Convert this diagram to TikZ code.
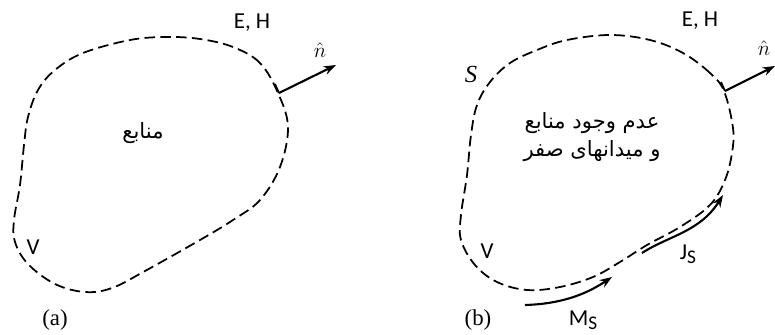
\documentclass[tikz,border=0pt]{standalone}
\usepackage{fontspec}
\setmainfont{Liberation Serif}
\newfontfamily\arabicfont[Script=Arabic]{DejaVu Sans}
\newfontfamily\labfont{Carlito}
\TeXXeTstate=1
\usetikzlibrary{arrows.meta}

\begin{document}
\begin{tikzpicture}[x=0.02cm, y=-0.02cm, >=Stealth]
\tikzstyle{bnd}=[dash pattern=on 6pt off 3pt, line width=1pt]
\tikzstyle{vec}=[->, line width=1.2pt, >={Stealth[length=7pt,width=5pt]}]
\tikzstyle{lab}=[font=\labfont\fontsize{13}{15}\selectfont, inner sep=1pt]
\tikzstyle{captxt}=[font=\fontsize{13}{15}\selectfont, inner sep=1pt]
\tikzstyle{ar}=[font=\arabicfont\fontsize{12}{16}\selectfont, align=center, inner sep=1pt]
\tikzstyle{nrm}=[font=\large, inner sep=1pt]
\useasboundingbox (0,0) rectangle (775,335);

% (a)
\draw[bnd] plot[smooth cycle, tension=0.6] coordinates {(278,93) (260,63) (233,47)
  (200,39) (167,37) (130,40) (83,53) (55,70) (38,90) (28,117) (24,145) (20,185)
  (14,220) (15,242) (28,264) (55,284) (85,292) (112,288) (145,271) (200,240)
  (233,220) (260,200) (280,167) (288,127)};
\coordinate (na) at (279,93);
\coordinate (nta) at (336,65);
\draw[vec] (na) -- (nta);
\draw[line width=1pt] (na) -- ++(-4,-9);
\node[lab] (eha) at (252,23) {E, H};
\node[nrm] (nha) at (320,50) {$\hat{n}$};
\node[ar] (src) at (143,133) {\beginR منابع\endR};
\node[lab] (va) at (33,247) {V};
\node[captxt] (capa) at (55,320) {(a)};

% (b)
\draw[bnd] plot[smooth cycle, tension=0.6] coordinates {(724,91) (710,73) (683,53)
  (650,40) (610,35) (567,40) (537,50) (510,63) (490,82) (477,105) (471,135)
  (467,175) (461,215) (461,240) (475,265) (497,282) (527,290) (560,287) (593,277)
  (620,262) (647,245) (680,227) (710,205) (725,180) (732,153) (733,128)};
\coordinate (nb) at (725,91);
\coordinate (ntb) at (775,66);
\draw[vec] (nb) -- (ntb);
\draw[line width=1pt] (nb) -- ++(-4,-9);
\node[lab] (ehb) at (700,21) {E, H};
\node[nrm] (nhb) at (764,48) {$\hat{n}$};
\node[captxt, font=\itshape\fontsize{14}{16}\selectfont] (sb) at (471,74) {S};
\node[ar] (nosrc) at (592,137) {\beginR عدم وجود منابع\endR\\ \beginR و میدانهای صفر\endR};
\node[lab] (vb) at (487,251) {V};
\node[captxt] (capb) at (478,320) {(b)};

% surface currents
\coordinate (ms0) at (525,305);
\coordinate (ms1) at (612,277);
\draw[vec] (ms0) .. controls (560,304) and (585,295) .. (ms1);
\node[lab] (msl) at (583,320) {M\raisebox{-0.35ex}{\fontsize{11}{12}\selectfont S}};
\coordinate (js0) at (642,253);
\coordinate (js1) at (723,195);
\draw[vec] (js0) .. controls (668,236) and (700,232) .. (js1);
\node[lab] (jsl) at (688,254) {J\raisebox{-0.35ex}{\fontsize{11}{12}\selectfont S}};
\end{tikzpicture}
\end{document}
